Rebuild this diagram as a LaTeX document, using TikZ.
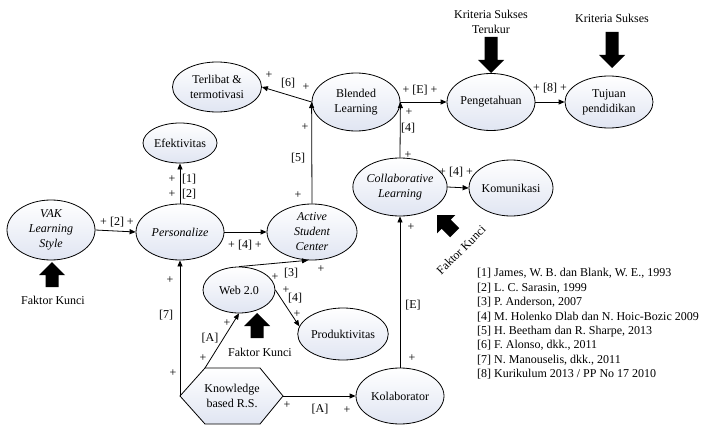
\documentclass[tikz,border=0pt]{standalone}
\usepackage{fontspec}
\setmainfont{Liberation Serif}
\usetikzlibrary{arrows.meta,shapes.geometric}

\definecolor{bubfill}{RGB}{224,229,242}

\tikzset{
  every node/.style={font=\fontsize{12}{15}\selectfont},
  bub/.style={ellipse, draw, line width=0.8pt, inner sep=0pt, align=center,
              top color=white, bottom color=bubfill},
  conn/.style={draw, line width=0.8pt, -{Triangle[length=6pt,width=5pt]}},
  lbl/.style={inner sep=0pt, font=\fontsize{12}{14}\selectfont},
  pics/fatarrow/.style={code={
    \fill (0,0) -- (13,13) -- (6.5,13) -- (6.5,#1) -- (-6.5,#1)
          -- (-6.5,13) -- (-13,13) -- cycle;}}
}

\begin{document}
\begin{tikzpicture}[x=1pt,y=-1pt]
\useasboundingbox (0,0) rectangle (704,428);
\fill[white] (0,0) rectangle (704,428);

% concept nodes
\node[bub, minimum width=88, minimum height=60] (vak)   at (51,230)  {\itshape VAK\\\itshape Learning\\\itshape Style};
\node[bub, minimum width=88, minimum height=56] (pers)  at (180,232) {\itshape Personalize};
\node[bub, minimum width=74, minimum height=40] (efek)  at (180,143) {Efektivitas};
\node[bub, minimum width=89, minimum height=50] (terl)  at (217,87)  {Terlibat \&\\termotivasi};
\node[bub, minimum width=88, minimum height=58] (blend) at (356,102) {Blended\\Learning};
\node[bub, minimum width=90, minimum height=56] (asc)   at (312,232) {\itshape Active\\\itshape Student\\\itshape Center};
\node[bub, minimum width=72, minimum height=46] (web)   at (239,290) {Web 2.0};
\node[bub, minimum width=88, minimum height=52] (prod)  at (343,334) {Produktivitas};
\node[bub, minimum width=88, minimum height=56] (kol)   at (400,396) {Kolaborator};
\node[bub, minimum width=88, minimum height=58] (coll)  at (400,187) {\itshape Collaborative\\\itshape Learning};
\node[bub, minimum width=84, minimum height=56] (komu)  at (511,188) {Komunikasi};
\node[bub, minimum width=88, minimum height=57] (peng)  at (491,102) {Pengetahuan};
\node[bub, minimum width=88, minimum height=52] (tuju)  at (609,102) {Tujuan\\pendidikan};

% knowledge-based recommender system (hexagon)
\coordinate (kl)  at (180,396);
\coordinate (ktl) at (205,368);
\coordinate (ktr) at (260,368);
\coordinate (kr)  at (283,396);
\coordinate (kbr) at (260,424);
\coordinate (kbl) at (205,424);
\path[draw, line width=0.8pt, top color=white, bottom color=bubfill]
  (kl) -- (ktl) -- (ktr) -- (kr) -- (kbr) -- (kbl) -- cycle;
\node[align=center] (know) at (232,396) {Knowledge\\based R.S.};

% connectors
\draw[conn] (vak.east) -- (pers.west);
\draw[conn] (pers.north) -- (efek.south);
\draw[conn] (pers.east) -- (asc.west);
\draw[conn] (asc.north) -- (blend.west);
\draw[conn] (blend.west) -- (terl.east);
\draw[conn] (blend.east) -- (peng.west);
\draw[conn] (peng.east) -- (tuju.west);
\draw[conn] (coll.north) -- (blend.east);
\draw[conn] (coll.east) -- (komu.west);
\draw[conn] (kol.north) -- (coll.south);
\draw[conn] (web.north) -- (asc.-98);
\draw[conn] (web.east) -- (prod.170);
\draw[conn] (ktl) -- (web.south);
\draw[conn] (kl) -- (pers.south);
\draw[conn] (kr) -- (kol.west);

% connector labels
\node[lbl] at (117,222) {+ [2] +};
\node[lbl] at (172,179) {+};  \node[lbl] at (189,179) {[1]};
\node[lbl] at (172,194) {+};  \node[lbl] at (189,194) {[2]};
\node[lbl] at (245,245) {+ [4] +};
\node[lbl] at (269,75)  {+};  \node[lbl] at (288,83) {[6]};  \node[lbl] at (306,87) {+};
\node[lbl] at (305,127) {+};  \node[lbl] at (298,158) {[5]}; \node[lbl] at (298,195) {+};
\node[lbl] at (420,90)  {+ [E] +};
\node[lbl] at (550,88)  {+ [8] +};
\node[lbl] at (409,112) {+};  \node[lbl] at (408,128) {[4]}; \node[lbl] at (408,155) {+};
\node[lbl] at (456,172) {+ [4] +};
\node[lbl] at (411,227) {+};  \node[lbl] at (413,305) {[E]}; \node[lbl] at (412,358) {+};
\node[lbl] at (275,277) {+};  \node[lbl] at (291,273) {[3]}; \node[lbl] at (321,269) {+};
\node[lbl] at (286,290) {+};  \node[lbl] at (295,298) {[4]}; \node[lbl] at (297,314) {+};
\node[lbl] at (203,358) {+};  \node[lbl] at (210,338) {[A]}; \node[lbl] at (227,323) {+};
\node[lbl] at (170,280) {+};  \node[lbl] at (166,315) {[7]}; \node[lbl] at (173,373) {+};
\node[lbl] at (287,405) {+};  \node[lbl] at (320,409) {[A]}; \node[lbl] at (347,410) {+};

% key factors and success criteria
\pic at (52,262) {fatarrow=25};
\node (fk1) at (53,300) {Faktor Kunci};
\pic at (257,313) {fatarrow=25};
\node (fk2) at (260,352) {Faktor Kunci};
\pic[rotate=45] at (437,215) {fatarrow=25};
\node[rotate=45] (fk3) at (461,250) {Faktor Kunci};
\pic[rotate=180] at (491,73) {fatarrow=36};
\node[align=center] (ks1) at (491,22) {Kriteria Sukses\\Terukur};
\pic[rotate=180] at (612,68) {fatarrow=36};
\node (ks2) at (612,18) {Kriteria Sukses};

% references
\node[anchor=west, align=left, inner sep=0pt, font=\fontsize{12}{14.4}\selectfont] (refs) at (477,324)
  {{[1]} James, W. B. dan Blank, W. E., 1993\\
   {[2]} L. C. Sarasin, 1999\\
   {[3]} P. Anderson, 2007\\
   {[4]} M. Holenko Dlab dan N. Hoic-Bozic 2009\\
   {[5]} H. Beetham dan R. Sharpe, 2013\\
   {[6]} F. Alonso, dkk., 2011\\
   {[7]} N. Manouselis, dkk., 2011\\
   {[8]} Kurikulum 2013 / PP No 17 2010};
\end{tikzpicture}
\end{document}
